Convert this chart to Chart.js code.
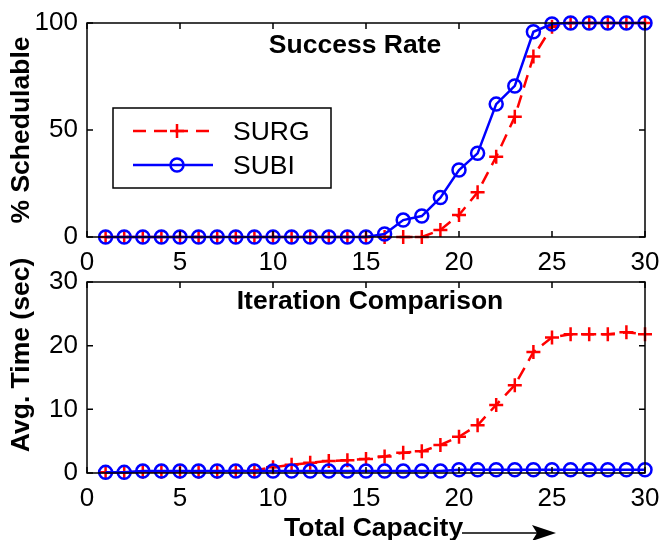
<!DOCTYPE html>
<html>
<head>
<meta charset="utf-8">
<script src="https://cdn.jsdelivr.net/npm/chart.js@4.4.1/dist/chart.umd.min.js"></script>
<style>
  body { margin: 0; background: #fff; }
  #wrap { position: relative; width: 661px; height: 540px; }
  canvas { position: absolute; left: 0; top: 0; }
</style>
</head>
<body>
<div id="wrap">
  <canvas id="time-chart" width="661" height="540"></canvas>
  <canvas id="rate-chart" width="661" height="540"></canvas>
</div>
<script>
// chart data
const capacity = [1, 2, 3, 4, 5, 6, 7, 8, 9, 10, 11, 12, 13, 14, 15,
                  16, 17, 18, 19, 20, 21, 22, 23, 24, 25, 26, 27, 28, 29, 30];

const surgRate = [0, 0, 0, 0, 0, 0, 0, 0, 0, 0, 0, 0, 0, 0, 0,
                  0, 0, 0, 3.3, 10.3, 20.9, 37.5, 56.2, 84.3, 98.3, 100, 100, 100, 100, 100];
const subiRate = [0, 0, 0, 0, 0, 0, 0, 0, 0, 0, 0, 0, 0, 0, 0,
                  1.4, 7.9, 9.8, 18.4, 31.3, 39.1, 62.1, 70.6, 95.9, 99.5, 100, 100, 100, 100, 100];

const surgTime = [0.1, 0.1, 0.2, 0.2, 0.2, 0.2, 0.2, 0.3, 0.4, 0.9, 1.3, 1.6, 1.9, 2.0, 2.2,
                  2.6, 3.2, 3.4, 4.4, 5.7, 7.5, 10.7, 13.8, 19.0, 21.3, 21.8, 21.8, 21.8, 22.1, 21.8];
const subiTime = [0.1, 0.1, 0.3, 0.3, 0.3, 0.3, 0.3, 0.3, 0.3, 0.3, 0.3, 0.3, 0.3, 0.3, 0.3,
                  0.3, 0.3, 0.3, 0.3, 0.5, 0.5, 0.5, 0.5, 0.5, 0.5, 0.5, 0.5, 0.5, 0.5, 0.5];

const xTicks = [0, 5, 10, 15, 20, 25, 30];
const rateTicks = [0, 50, 100];
const timeTicks = [0, 10, 20, 30];

const seriesNames = ['SURG', 'SUBI'];

const FONT = 'Arial, "Liberation Sans", Helvetica, sans-serif';
const RED = '#ff0000';
const BLUE = '#0000ff';

function toPoints(values) {
    return capacity.map((x, i) => ({ x: x, y: values[i] }));
}

function drawCross(ctx, x, y, r) {
    ctx.beginPath();
    ctx.moveTo(x - r, y); ctx.lineTo(x + r, y);
    ctx.moveTo(x, y - r); ctx.lineTo(x, y + r);
    ctx.stroke();
}

// box, inward ticks, inner titles, legend, arrow
const framePlugin = {
    id: 'frame',
    afterDraw(chart, args, opts) {
        const ctx = chart.ctx;
        const area = chart.chartArea;
        const xs = chart.scales.x;
        const ys = chart.scales.y;
        ctx.save();
        ctx.strokeStyle = '#000';
        ctx.lineWidth = 1.5;
        ctx.strokeRect(area.left, area.top, area.right - area.left, area.bottom - area.top);
        ctx.beginPath();
        xs.ticks.forEach(t => {
            const px = xs.getPixelForValue(t.value);
            ctx.moveTo(px, area.bottom); ctx.lineTo(px, area.bottom - 6);
            ctx.moveTo(px, area.top); ctx.lineTo(px, area.top + 6);
        });
        ys.ticks.forEach(t => {
            const py = ys.getPixelForValue(t.value);
            ctx.moveTo(area.left, py); ctx.lineTo(area.left + 6, py);
            ctx.moveTo(area.right, py); ctx.lineTo(area.right - 6, py);
        });
        ctx.stroke();

        ctx.fillStyle = '#000';
        ctx.font = 'bold 26.5px ' + FONT;
        ctx.textAlign = 'center';
        ctx.textBaseline = 'middle';
        ctx.fillText(opts.title, opts.titleX, opts.titleY);

        // y label
        ctx.save();
        ctx.translate(22, opts.ylabelY);
        ctx.rotate(-Math.PI / 2);
        ctx.fillText(opts.ylabel, 0, 0);
        ctx.restore();

        if (opts.legend) {
            const ds = chart.data.datasets;
            ctx.lineWidth = 1.5;
            ctx.strokeStyle = '#000';
            ctx.strokeRect(113, 108, 218, 80);
            const rows = [131, 165];
            ds.forEach((d, i) => {
                const y = rows[i];
                ctx.strokeStyle = d.borderColor;
                ctx.lineWidth = d.borderWidth;
                ctx.setLineDash(d.borderDash || []);
                ctx.beginPath();
                ctx.moveTo(133, y); ctx.lineTo(213, y);
                ctx.stroke();
                ctx.setLineDash([]);
                if (d.pointStyle === 'cross') {
                    drawCross(ctx, 177, y, 7);
                } else {
                    ctx.beginPath();
                    ctx.arc(177, y, 6.5, 0, Math.PI * 2);
                    ctx.stroke();
                }
                ctx.fillStyle = '#000';
                ctx.font = '26.5px ' + FONT;
                ctx.textAlign = 'left';
                ctx.fillText(d.label, 233, y + 2);
            });
        }

        if (opts.xlabel) {
            ctx.font = 'bold 26.5px ' + FONT;
            ctx.textAlign = 'left';
            ctx.fillStyle = '#000';
            ctx.fillText(opts.xlabel, 284, 529);
            // arrow
            ctx.strokeStyle = '#000';
            ctx.lineWidth = 1.5;
            ctx.beginPath();
            ctx.moveTo(462, 533); ctx.lineTo(540, 533);
            ctx.stroke();
            ctx.beginPath();
            ctx.moveTo(556, 533);
            ctx.lineTo(532, 525);
            ctx.lineTo(537, 533);
            ctx.lineTo(532, 541);
            ctx.closePath();
            ctx.fill();
        }
        ctx.restore();
    }
};

function makeDatasets(redValues, blueValues) {
    return [{
        label: seriesNames[0],
        data: toPoints(redValues),
        borderColor: RED,
        backgroundColor: 'rgba(0,0,0,0)',
        borderWidth: 2.5,
        borderDash: [13, 8],
        pointStyle: 'cross',
        pointRadius: 7,
        pointBorderWidth: 2.5,
        tension: 0,
        clip: false,
        order: 2
    }, {
        label: seriesNames[1],
        data: toPoints(blueValues),
        borderColor: BLUE,
        backgroundColor: 'rgba(0,0,0,0)',
        borderWidth: 2.5,
        pointStyle: 'circle',
        pointRadius: 6.5,
        pointBorderWidth: 2.5,
        tension: 0,
        clip: false,
        order: 1
    }];
}

function makeOptions(plotTop, plotBottom, yTicks, frame) {
    return {
        responsive: false,
        animation: false,
        devicePixelRatio: 1,
        layout: { padding: { left: 0, right: 16, top: plotTop, bottom: 540 - plotBottom - 40 } },
        plugins: { legend: { display: false }, tooltip: { enabled: false }, frame: frame },
        scales: {
            x: {
                type: 'linear',
                min: 0, max: 30,
                afterFit: s => { s.height = 40; s.paddingLeft = 0; s.paddingRight = 0; },
                afterBuildTicks: s => { s.ticks = xTicks.map(v => ({ value: v })); },
                grid: { display: false, drawTicks: false },
                border: { display: false },
                ticks: { color: '#000', padding: 10, maxRotation: 0, font: { family: FONT, size: 26 } }
            },
            y: {
                min: yTicks[0], max: yTicks[yTicks.length - 1],
                afterFit: s => { s.width = 87; s.paddingTop = 0; s.paddingBottom = 0; },
                afterBuildTicks: s => { s.ticks = yTicks.map(v => ({ value: v })); },
                grid: { display: false, drawTicks: false },
                border: { display: false },
                ticks: { color: '#000', padding: 9, font: { family: FONT, size: 26 } }
            }
        }
    };
}

function drawRateChart() {
    const ctx = document.getElementById('rate-chart').getContext('2d');
    new Chart(ctx, {
        type: 'line',
        data: { datasets: makeDatasets(surgRate, subiRate) },
        options: makeOptions(23, 237, rateTicks, {
            title: 'Success Rate', titleX: 355, titleY: 46,
            ylabel: '% Schedulable', ylabelY: 130, legend: true
        }),
        plugins: [framePlugin]
    });
}

function drawTimeChart() {
    const ctx = document.getElementById('time-chart').getContext('2d');
    new Chart(ctx, {
        type: 'line',
        data: { datasets: makeDatasets(surgTime, subiTime) },
        options: makeOptions(282, 473, timeTicks, {
            title: 'Iteration Comparison', titleX: 370, titleY: 302,
            ylabel: 'Avg. Time (sec)', ylabelY: 355, xlabel: 'Total Capacity'
        }),
        plugins: [framePlugin]
    });
}

drawRateChart();
drawTimeChart();
</script>
</body>
</html>
